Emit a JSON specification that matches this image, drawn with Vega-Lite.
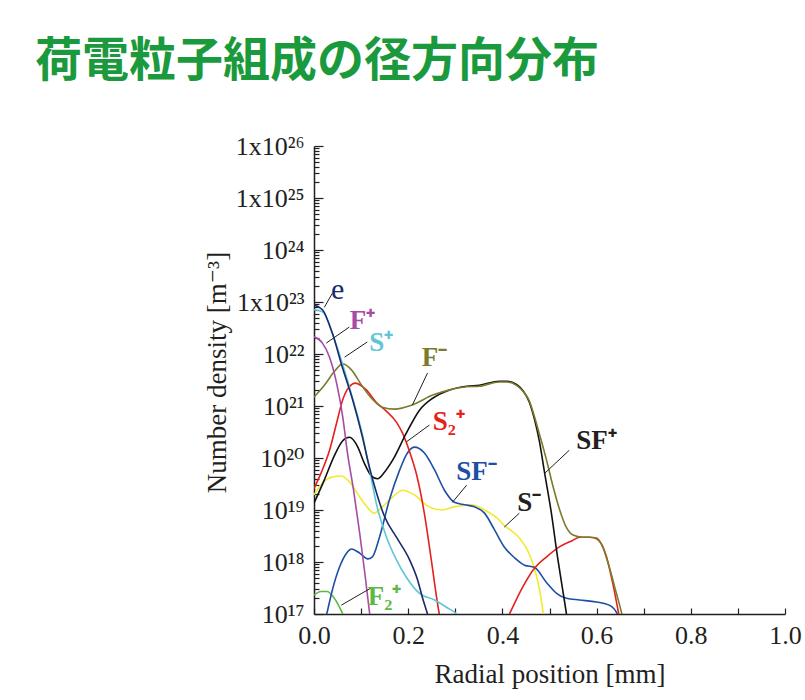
{
  "$schema": "https://vega.github.io/schema/vega-lite/v6.json",
  "width": 471,
  "height": 468,
  "autosize": "none",
  "padding": {"left": 314, "top": 146, "right": 20, "bottom": 86},
  "background": "#ffffff",
  "config": {"view": {"stroke": null}, "axis": {"grid": false}},
  "title": {
    "text": "荷電粒子組成の径方向分布",
    "anchor": "start",
    "frame": "group",
    "dx": -279,
    "offset": 10,
    "baseline": "alphabetic",
    "font": "Noto Sans CJK JP",
    "fontSize": 47,
    "fontWeight": "bold",
    "color": "#1B9A3D"
  },
  "datasets": {
    "curves": [
      {"species": "F2+", "r": 0, "n": 2.3e17},
      {"species": "F2+", "r": 0.015, "n": 2.7e17},
      {"species": "F2+", "r": 0.028, "n": 2.7e17},
      {"species": "F2+", "r": 0.04, "n": 2.2e17},
      {"species": "F2+", "r": 0.05, "n": 1.6e17},
      {"species": "F2+", "r": 0.058, "n": 1.15e17},
      {"species": "F2+", "r": 0.066, "n": 7.9e16},

      {"species": "S-", "r": 0, "n": 1.95e19},
      {"species": "S-", "r": 0.018, "n": 3.3e19},
      {"species": "S-", "r": 0.039, "n": 4.3e19},
      {"species": "S-", "r": 0.058, "n": 4.5e19},
      {"species": "S-", "r": 0.075, "n": 3.5e19},
      {"species": "S-", "r": 0.097, "n": 1.78e19},
      {"species": "S-", "r": 0.114, "n": 1.1e19},
      {"species": "S-", "r": 0.128, "n": 8.7e18},
      {"species": "S-", "r": 0.145, "n": 1.15e19},
      {"species": "S-", "r": 0.167, "n": 1.78e19},
      {"species": "S-", "r": 0.188, "n": 2.4e19},
      {"species": "S-", "r": 0.213, "n": 1.95e19},
      {"species": "S-", "r": 0.241, "n": 1.2e19},
      {"species": "S-", "r": 0.271, "n": 1.0e19},
      {"species": "S-", "r": 0.298, "n": 1.15e19},
      {"species": "S-", "r": 0.334, "n": 1.26e19},
      {"species": "S-", "r": 0.362, "n": 1.0e19},
      {"species": "S-", "r": 0.39, "n": 6.8e18},
      {"species": "S-", "r": 0.404, "n": 5.0e18},
      {"species": "S-", "r": 0.419, "n": 4.0e18},
      {"species": "S-", "r": 0.436, "n": 2.9e18},
      {"species": "S-", "r": 0.453, "n": 1.7e18},
      {"species": "S-", "r": 0.468, "n": 7.6e17},
      {"species": "S-", "r": 0.479, "n": 2.9e17},
      {"species": "S-", "r": 0.487, "n": 1.0e17},
      {"species": "S-", "r": 0.495, "n": 3.2e16},

      {"species": "SF-", "r": 0.015, "n": 4e16},
      {"species": "SF-", "r": 0.027, "n": 1e17},
      {"species": "SF-", "r": 0.039, "n": 2.9e17},
      {"species": "SF-", "r": 0.054, "n": 7.9e17},
      {"species": "SF-", "r": 0.069, "n": 1.48e18},
      {"species": "SF-", "r": 0.08, "n": 1.78e18},
      {"species": "SF-", "r": 0.097, "n": 1.48e18},
      {"species": "SF-", "r": 0.114, "n": 1.15e18},
      {"species": "SF-", "r": 0.124, "n": 1.26e18},
      {"species": "SF-", "r": 0.139, "n": 3.0e18},
      {"species": "SF-", "r": 0.16, "n": 1.55e19},
      {"species": "SF-", "r": 0.182, "n": 5.9e19},
      {"species": "SF-", "r": 0.196, "n": 1.15e20},
      {"species": "SF-", "r": 0.213, "n": 1.62e20},
      {"species": "SF-", "r": 0.234, "n": 1.26e20},
      {"species": "SF-", "r": 0.256, "n": 5.9e19},
      {"species": "SF-", "r": 0.277, "n": 2.4e19},
      {"species": "SF-", "r": 0.298, "n": 1.41e19},
      {"species": "SF-", "r": 0.32, "n": 1.26e19},
      {"species": "SF-", "r": 0.341, "n": 1.15e19},
      {"species": "SF-", "r": 0.362, "n": 8.7e18},
      {"species": "SF-", "r": 0.383, "n": 4.2e18},
      {"species": "SF-", "r": 0.404, "n": 1.95e18},
      {"species": "SF-", "r": 0.426, "n": 1.2e18},
      {"species": "SF-", "r": 0.447, "n": 8.7e17},
      {"species": "SF-", "r": 0.468, "n": 7.9e17},
      {"species": "SF-", "r": 0.494, "n": 4.0e17},
      {"species": "SF-", "r": 0.515, "n": 2.5e17},
      {"species": "SF-", "r": 0.536, "n": 2.0e17},
      {"species": "SF-", "r": 0.564, "n": 1.86e17},
      {"species": "SF-", "r": 0.6, "n": 1.7e17},
      {"species": "SF-", "r": 0.627, "n": 1.48e17},
      {"species": "SF-", "r": 0.644, "n": 1.0e17},
      {"species": "SF-", "r": 0.652, "n": 5e16},

      {"species": "S2+", "r": 0, "n": 2.6e19},
      {"species": "S2+", "r": 0.016, "n": 5.4e19},
      {"species": "S2+", "r": 0.033, "n": 1.41e20},
      {"species": "S2+", "r": 0.048, "n": 4.7e20},
      {"species": "S2+", "r": 0.061, "n": 1.32e21},
      {"species": "S2+", "r": 0.075, "n": 2.34e21},
      {"species": "S2+", "r": 0.088, "n": 2.75e21},
      {"species": "S2+", "r": 0.111, "n": 2.04e21},
      {"species": "S2+", "r": 0.133, "n": 1.15e21},
      {"species": "S2+", "r": 0.154, "n": 7.9e20},
      {"species": "S2+", "r": 0.175, "n": 4.9e20},
      {"species": "S2+", "r": 0.188, "n": 3.0e20},
      {"species": "S2+", "r": 0.203, "n": 1.32e20},
      {"species": "S2+", "r": 0.218, "n": 4.7e19},
      {"species": "S2+", "r": 0.235, "n": 7.9e18},
      {"species": "S2+", "r": 0.249, "n": 1.1e18},
      {"species": "S2+", "r": 0.266, "n": 1.0e17},
      {"species": "S2+", "r": 0.33, "n": 3e15},
      {"species": "S2+", "r": 0.415, "n": 1.0e17},
      {"species": "S2+", "r": 0.443, "n": 3.3e17},
      {"species": "S2+", "r": 0.468, "n": 7.6e17},
      {"species": "S2+", "r": 0.494, "n": 1.26e18},
      {"species": "S2+", "r": 0.521, "n": 1.95e18},
      {"species": "S2+", "r": 0.549, "n": 2.6e18},
      {"species": "S2+", "r": 0.564, "n": 3.0e18},
      {"species": "S2+", "r": 0.585, "n": 3.0e18},
      {"species": "S2+", "r": 0.6, "n": 2.8e18},
      {"species": "S2+", "r": 0.621, "n": 1.26e18},
      {"species": "S2+", "r": 0.634, "n": 4.0e17},
      {"species": "S2+", "r": 0.647, "n": 1.0e17},
      {"species": "S2+", "r": 0.655, "n": 4e16},

      {"species": "SF+", "r": 0, "n": 1.35e19},
      {"species": "SF+", "r": 0.022, "n": 3.8e19},
      {"species": "SF+", "r": 0.044, "n": 1.15e20},
      {"species": "SF+", "r": 0.061, "n": 2.14e20},
      {"species": "SF+", "r": 0.075, "n": 2.5e20},
      {"species": "SF+", "r": 0.092, "n": 1.7e20},
      {"species": "SF+", "r": 0.107, "n": 7.9e19},
      {"species": "SF+", "r": 0.122, "n": 4.5e19},
      {"species": "SF+", "r": 0.135, "n": 4.0e19},
      {"species": "SF+", "r": 0.15, "n": 5.4e19},
      {"species": "SF+", "r": 0.167, "n": 9.1e19},
      {"species": "SF+", "r": 0.196, "n": 3.0e20},
      {"species": "SF+", "r": 0.224, "n": 8.3e20},
      {"species": "SF+", "r": 0.252, "n": 1.41e21},
      {"species": "SF+", "r": 0.288, "n": 2.04e21},
      {"species": "SF+", "r": 0.324, "n": 2.4e21},
      {"species": "SF+", "r": 0.351, "n": 2.5e21},
      {"species": "SF+", "r": 0.393, "n": 3.0e21},
      {"species": "SF+", "r": 0.409, "n": 3.0e21},
      {"species": "SF+", "r": 0.43, "n": 2.6e21},
      {"species": "SF+", "r": 0.445, "n": 1.9e21},
      {"species": "SF+", "r": 0.457, "n": 1.2e21},
      {"species": "SF+", "r": 0.468, "n": 5.6e20},
      {"species": "SF+", "r": 0.479, "n": 2.0e20},
      {"species": "SF+", "r": 0.489, "n": 5.6e19},
      {"species": "SF+", "r": 0.504, "n": 8.7e18},
      {"species": "SF+", "r": 0.517, "n": 1.26e18},
      {"species": "SF+", "r": 0.528, "n": 2.9e17},
      {"species": "SF+", "r": 0.536, "n": 1.0e17},
      {"species": "SF+", "r": 0.545, "n": 2.5e16},

      {"species": "F-", "r": 0, "n": 1.48e21},
      {"species": "F-", "r": 0.022, "n": 2.5e21},
      {"species": "F-", "r": 0.044, "n": 4.7e21},
      {"species": "F-", "r": 0.061, "n": 6.5e21},
      {"species": "F-", "r": 0.08, "n": 4.9e21},
      {"species": "F-", "r": 0.101, "n": 2.5e21},
      {"species": "F-", "r": 0.122, "n": 1.41e21},
      {"species": "F-", "r": 0.145, "n": 9.5e20},
      {"species": "F-", "r": 0.171, "n": 8.7e20},
      {"species": "F-", "r": 0.209, "n": 1.05e21},
      {"species": "F-", "r": 0.252, "n": 1.62e21},
      {"species": "F-", "r": 0.288, "n": 2.04e21},
      {"species": "F-", "r": 0.324, "n": 2.34e21},
      {"species": "F-", "r": 0.351, "n": 2.4e21},
      {"species": "F-", "r": 0.393, "n": 2.9e21},
      {"species": "F-", "r": 0.409, "n": 2.9e21},
      {"species": "F-", "r": 0.43, "n": 2.5e21},
      {"species": "F-", "r": 0.445, "n": 1.86e21},
      {"species": "F-", "r": 0.457, "n": 1.26e21},
      {"species": "F-", "r": 0.468, "n": 6.3e20},
      {"species": "F-", "r": 0.479, "n": 2.8e20},
      {"species": "F-", "r": 0.494, "n": 8.9e19},
      {"species": "F-", "r": 0.506, "n": 3.2e19},
      {"species": "F-", "r": 0.521, "n": 1.05e19},
      {"species": "F-", "r": 0.535, "n": 4.8e18},
      {"species": "F-", "r": 0.55, "n": 3.3e18},
      {"species": "F-", "r": 0.57, "n": 3.0e18},
      {"species": "F-", "r": 0.585, "n": 3.0e18},
      {"species": "F-", "r": 0.6, "n": 2.9e18},
      {"species": "F-", "r": 0.613, "n": 1.95e18},
      {"species": "F-", "r": 0.627, "n": 7.9e17},
      {"species": "F-", "r": 0.642, "n": 2.5e17},
      {"species": "F-", "r": 0.653, "n": 1.05e17},
      {"species": "F-", "r": 0.66, "n": 5e16},

      {"species": "F+", "r": 0, "n": 2.14e22},
      {"species": "F+", "r": 0.018, "n": 1.62e22},
      {"species": "F+", "r": 0.033, "n": 8.7e21},
      {"species": "F+", "r": 0.048, "n": 2.75e21},
      {"species": "F+", "r": 0.061, "n": 6.2e20},
      {"species": "F+", "r": 0.071, "n": 1.26e20},
      {"species": "F+", "r": 0.084, "n": 2.4e19},
      {"species": "F+", "r": 0.097, "n": 3.6e18},
      {"species": "F+", "r": 0.107, "n": 7.1e17},
      {"species": "F+", "r": 0.118, "n": 1.05e17},
      {"species": "F+", "r": 0.125, "n": 3.2e16},

      {"species": "S+", "r": 0, "n": 7.1e22},
      {"species": "S+", "r": 0.018, "n": 6.5e22},
      {"species": "S+", "r": 0.039, "n": 2.5e22},
      {"species": "S+", "r": 0.061, "n": 6.2e21},
      {"species": "S+", "r": 0.082, "n": 1.41e21},
      {"species": "S+", "r": 0.103, "n": 2.75e20},
      {"species": "S+", "r": 0.118, "n": 5.9e19},
      {"species": "S+", "r": 0.133, "n": 1.26e19},
      {"species": "S+", "r": 0.154, "n": 3.0e18},
      {"species": "S+", "r": 0.175, "n": 1.1e18},
      {"species": "S+", "r": 0.196, "n": 5.1e17},
      {"species": "S+", "r": 0.224, "n": 2.5e17},
      {"species": "S+", "r": 0.256, "n": 1.86e17},
      {"species": "S+", "r": 0.283, "n": 1.32e17},
      {"species": "S+", "r": 0.303, "n": 1.0e17},
      {"species": "S+", "r": 0.32, "n": 6.3e16},

      {"species": "e", "r": 0, "n": 8.7e22},
      {"species": "e", "r": 0.018, "n": 7.1e22},
      {"species": "e", "r": 0.039, "n": 2.5e22},
      {"species": "e", "r": 0.06, "n": 5.6e21},
      {"species": "e", "r": 0.082, "n": 1.32e21},
      {"species": "e", "r": 0.103, "n": 2.5e20},
      {"species": "e", "r": 0.114, "n": 9.1e19},
      {"species": "e", "r": 0.128, "n": 3.0e19},
      {"species": "e", "r": 0.15, "n": 7.4e18},
      {"species": "e", "r": 0.175, "n": 3.0e18},
      {"species": "e", "r": 0.203, "n": 1.1e18},
      {"species": "e", "r": 0.22, "n": 4.5e17},
      {"species": "e", "r": 0.23, "n": 2.1e17},
      {"species": "e", "r": 0.241, "n": 1.0e17},
      {"species": "e", "r": 0.25, "n": 5e16}
    ],
    "labels": [
      {"label": "e", "r": 0.05, "n": 1.7e23},
      {"label": "F⁺", "r": 0.103, "n": 4.3e22},
      {"label": "S⁺", "r": 0.143, "n": 1.6e22},
      {"label": "F⁻", "r": 0.256, "n": 8.3e21},
      {"label": "S₂⁺", "r": 0.286, "n": 4.9e20},
      {"label": "SF⁻", "r": 0.345, "n": 5.4e19},
      {"label": "S⁻", "r": 0.457, "n": 1.35e19},
      {"label": "SF⁺", "r": 0.6, "n": 2.14e20},
      {"label": "F₂⁺", "r": 0.15, "n": 2.1e17}
    ],
    "leaders": [
      {"r": 0.022, "n": 7.9e22, "r2": 0.039, "n2": 1.48e23},
      {"r": 0.026, "n": 1.62e22, "r2": 0.075, "n2": 3.3e22},
      {"r": 0.065, "n": 8.7e21, "r2": 0.113, "n2": 1.7e22},
      {"r": 0.209, "n": 1.05e21, "r2": 0.241, "n2": 4.3e21},
      {"r": 0.196, "n": 2.04e20, "r2": 0.245, "n2": 4.3e20},
      {"r": 0.294, "n": 1.41e19, "r2": 0.324, "n2": 3.0e19},
      {"r": 0.404, "n": 4.7e18, "r2": 0.436, "n2": 8.7e18},
      {"r": 0.49, "n": 5.1e19, "r2": 0.542, "n2": 1.41e20},
      {"r": 0.058, "n": 1.48e17, "r2": 0.122, "n2": 3.2e17}
    ]
  },
  "layer": [
    {
      "data": {"name": "curves"},
      "mark": {"type": "line", "interpolate": "monotone", "strokeWidth": 1.6, "clip": true},
      "encoding": {
        "x": {
          "field": "r", "type": "quantitative",
          "scale": {"domain": [0, 1], "nice": false, "zero": false},
          "axis": {
            "values": [0, 0.1, 0.2, 0.3, 0.4, 0.5, 0.6, 0.7, 0.8, 0.9, 1.0],
            "labelExpr": "round(datum.value*10) % 2 == 0 ? format(datum.value, '.1f') : ''",
            "labelFlush": false, "labelOverlap": false,
            "labelFont": "Liberation Serif", "labelFontSize": 26, "labelColor": "#231f20",
            "labelPadding": 14,
            "tickSize": -6, "tickColor": "#231f20", "tickWidth": 1.2,
            "domainColor": "#231f20", "domainWidth": 1.5,
            "title": "Radial position [mm]",
            "titleFont": "Liberation Serif", "titleFontSize": 27, "titleFontWeight": "normal",
            "titleColor": "#231f20", "titlePadding": 13
          }
        },
        "y": {
          "field": "n", "type": "quantitative",
          "scale": {"type": "log", "domain": [1e17, 1e26], "nice": false},
          "axis": {
            "values": [1e17,2e17,3e17,4e17,5e17,6e17,7e17,8e17,9e17,
                       1e18,2e18,3e18,4e18,5e18,6e18,7e18,8e18,9e18,
                       1e19,2e19,3e19,4e19,5e19,6e19,7e19,8e19,9e19,
                       1e20,2e20,3e20,4e20,5e20,6e20,7e20,8e20,9e20,
                       1e21,2e21,3e21,4e21,5e21,6e21,7e21,8e21,9e21,
                       1e22,2e22,3e22,4e22,5e22,6e22,7e22,8e22,9e22,
                       1e23,2e23,3e23,4e23,5e23,6e23,7e23,8e23,9e23,
                       1e24,2e24,3e24,4e24,5e24,6e24,7e24,8e24,9e24,
                       1e25,2e25,3e25,4e25,5e25,6e25,7e25,8e25,9e25,
                       1e26],
            "labelExpr": "abs(log(datum.value)/LN10 - round(log(datum.value)/LN10)) < 0.01 ? ['10¹⁷','10¹⁸','10¹⁹','10²⁰','10²¹','10²²','1x10²³','10²⁴','1x10²⁵','1x10²⁶'][round(log(datum.value)/LN10) - 17] : ''",
            "labelFlush": false, "labelOverlap": false,
            "labelFont": "Liberation Serif, DejaVu Serif", "labelFontSize": 26, "labelColor": "#231f20",
            "labelPadding": 19,
            "tickSize": {"condition": {"test": "abs(log(datum.value)/LN10 - round(log(datum.value)/LN10)) < 0.01", "value": -9}, "value": -5},
            "tickColor": "#231f20", "tickWidth": 1.2,
            "domainColor": "#231f20", "domainWidth": 1.5,
            "title": "Number density [m⁻³]",
            "titleFont": "Liberation Serif, DejaVu Serif", "titleFontSize": 27, "titleFontWeight": "normal",
            "titleColor": "#231f20", "titlePadding": 4, "titleY": 226
          }
        },
        "color": {
          "field": "species", "type": "nominal",
          "scale": {
            "domain": ["F2+", "S-", "SF-", "S2+", "SF+", "F-", "F+", "S+", "e"],
            "range": ["#5CB946", "#F2EA2E", "#1D4FA3", "#E5211E", "#111111", "#7B7B2B", "#A64CA6", "#5EC6D6", "#1B2A6B"]
          },
          "legend": null
        }
      }
    },
    {
      "data": {"name": "leaders"},
      "mark": {"type": "rule", "color": "#231f20", "strokeWidth": 1},
      "encoding": {
        "x": {"field": "r", "type": "quantitative"},
        "y": {"field": "n", "type": "quantitative"},
        "x2": {"field": "r2"},
        "y2": {"field": "n2"}
      }
    },
    {
      "data": {"name": "labels"},
      "transform": [{"filter": "datum.label !== 'e'"}],
      "mark": {"type": "text", "font": "Liberation Serif", "fontWeight": "bold", "fontSize": 27, "align": "center", "baseline": "middle"},
      "encoding": {
        "x": {"field": "r", "type": "quantitative"},
        "y": {"field": "n", "type": "quantitative"},
        "text": {"field": "label"},
        "color": {
          "field": "label", "type": "nominal",
          "scale": {
            "domain": ["F⁺", "S⁺", "F⁻", "S₂⁺", "SF⁻", "S⁻", "SF⁺", "F₂⁺"],
            "range": ["#A64CA6", "#5EC6D6", "#7B7B2B", "#E5211E", "#1D4FA3", "#231F20", "#231F20", "#5CB946"]
          },
          "legend": null
        }
      }
    },
    {
      "data": {"name": "labels"},
      "transform": [{"filter": "datum.label === 'e'"}],
      "mark": {"type": "text", "font": "Liberation Serif", "fontSize": 30, "align": "center", "baseline": "middle", "color": "#1B2A6B"},
      "encoding": {
        "x": {"field": "r", "type": "quantitative"},
        "y": {"field": "n", "type": "quantitative"},
        "text": {"field": "label"}
      }
    }
  ],
  "resolve": {"scale": {"color": "independent"}}
}
